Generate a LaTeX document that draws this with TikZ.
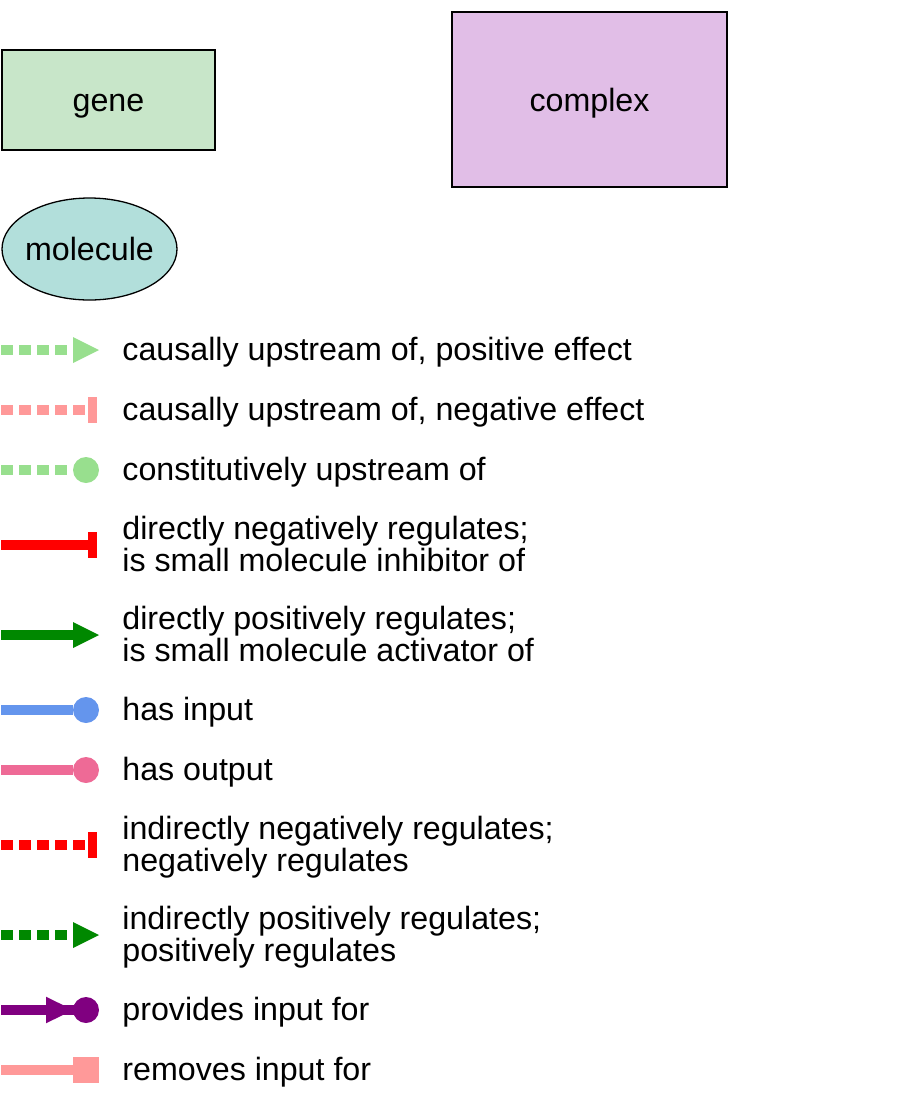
\documentclass[tikz,border=0pt]{standalone}
\usepackage{fontspec}
\setmainfont{Liberation Sans}
\usetikzlibrary{arrows.meta,shapes.geometric}
\definecolor{genefill}{HTML}{C8E6C9}
\definecolor{complexfill}{HTML}{E1BEE7}
\definecolor{molfill}{HTML}{B2DFDB}
\definecolor{lgreen}{HTML}{98DF8E}
\definecolor{lpink}{HTML}{FF9999}
\definecolor{dred}{HTML}{FF0000}
\definecolor{dgreen}{HTML}{008800}
\definecolor{cblue}{HTML}{6495ED}
\definecolor{hpink}{HTML}{EE6A96}
\definecolor{dpurple}{HTML}{800080}
\newcommand\legfont{\fontsize{16.1pt}{16pt}\selectfont}
\newcommand\lph{\vphantom{fy}}
\begin{document}
\begin{tikzpicture}[x=0.5pt,y=-0.5pt,
  box/.style={draw=black, line width=0.65pt, inner sep=0pt, font=\legfont, text height=11.5pt, text depth=0pt},
  lbl/.style={anchor=west, inner sep=0pt, align=left, font=\legfont, yshift=-1pt},
  edge/.style={line width=5pt},
  dsh/.style={dash pattern=on 6pt off 3pt},
  pos tip/.style={-{Triangle[length=13pt,width=13pt,line width=0pt]}},
  tee tip/.style={-{Rectangle[length=4.5pt,width=13pt,line width=0pt]}},
  dot tip/.style={-{Circle[length=13pt,width=13pt,line width=0pt]}},
  sq tip/.style={-{Rectangle[length=13pt,width=13pt,line width=0pt]}},
  prov tip/.style={-{Triangle[length=13.5pt,width=13.3pt,line width=0pt]Circle[length=13pt,width=13pt,line width=0pt]}}
]
\useasboundingbox (0,0) rectangle (900,1116);

% entity shapes
\node[box, fill=genefill, minimum width=106.5pt, minimum height=50pt] (gene) at (108.5,100) {\makebox[0pt]{gene}};
\node[box, fill=complexfill, minimum width=137.5pt, minimum height=87.5pt] (complex) at (589.5,99.5) {\makebox[0pt]{complex}};
\node[box, ellipse, fill=molfill, minimum width=87.5pt, minimum height=51pt] (molecule) at (89.5,249) {\makebox[0pt]{molecule}};

% legend rows: coordinates
\coordinate (s1) at (1,350);  \coordinate (e1) at (99,350);
\coordinate (s2) at (1,410);  \coordinate (e2) at (97,410);
\coordinate (s3) at (1,470);  \coordinate (e3) at (99,470);
\coordinate (s4) at (1,545);  \coordinate (e4) at (97,545);
\coordinate (s5) at (1,635);  \coordinate (e5) at (99,635);
\coordinate (s6) at (1,710);  \coordinate (e6) at (99,710);
\coordinate (s7) at (1,770);  \coordinate (e7) at (99,770);
\coordinate (s8) at (1,845);  \coordinate (e8) at (97,845);
\coordinate (s9) at (1,935);  \coordinate (e9) at (99,935);
\coordinate (s10) at (1,1010); \coordinate (e10) at (99,1010); \coordinate (m10) at (86,1010);
\coordinate (s11) at (1,1070); \coordinate (e11) at (99,1070);

% legend connectors
\draw[edge, dsh, lgreen, pos tip] (s1) -- (e1);
\draw[edge, dsh, lpink, tee tip] (s2) -- (e2);
\draw[edge, dsh, lgreen, dot tip] (s3) -- (e3);
\draw[edge, dred, tee tip] (s4) -- (e4);
\draw[edge, dgreen, pos tip] (s5) -- (e5);
\draw[edge, cblue, dot tip] (s6) -- (e6);
\draw[edge, hpink, dot tip] (s7) -- (e7);
\draw[edge, dsh, dred, tee tip] (s8) -- (e8);
\draw[edge, dsh, dgreen, pos tip] (s9) -- (e9);
\draw[edge, dpurple] (s10) -- (m10);
\draw[edge, dpurple, prov tip] (s10) -- (e10);
\draw[edge, lpink, sq tip] (s11) -- (e11);

% legend labels
\node[lbl] (l1) at (122,350) {causally upstream of, positive effect\lph};
\node[lbl] (l2) at (122,410) {causally upstream of, negative effect\lph};
\node[lbl] (l3) at (122,470) {constitutively upstream of\lph};
\node[lbl] (l4) at (122,545) {directly negatively regulates;\lph\\is small molecule inhibitor of\lph};
\node[lbl] (l5) at (122,635) {directly positively regulates;\lph\\is small molecule activator of\lph};
\node[lbl] (l6) at (122,710) {has input\lph};
\node[lbl] (l7) at (122,770) {has output\lph};
\node[lbl] (l8) at (122,845) {indirectly negatively regulates;\lph\\negatively regulates\lph};
\node[lbl] (l9) at (122,935) {indirectly positively regulates;\lph\\positively regulates\lph};
\node[lbl] (l10) at (122,1010) {provides input for\lph};
\node[lbl] (l11) at (122,1070) {removes input for\lph};
\end{tikzpicture}
\end{document}
